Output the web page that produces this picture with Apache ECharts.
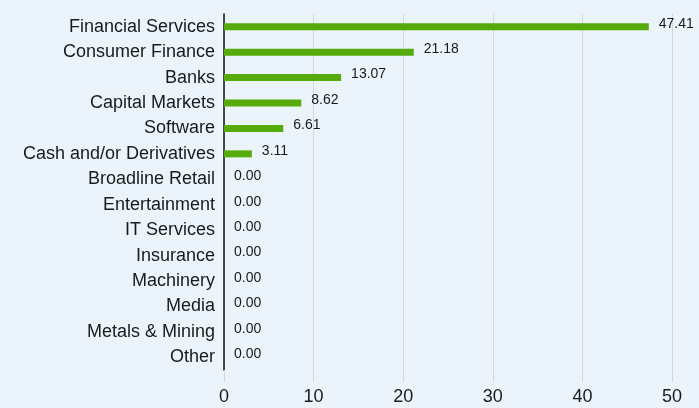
<!DOCTYPE html>
<html>
<head>
<meta charset="utf-8">
<script src="https://cdn.jsdelivr.net/npm/echarts@6/dist/echarts.min.js"></script>
<style>
  html, body { margin: 0; padding: 0; background: #eaf4fa; }
  #chart { width: 699px; height: 408px; }
</style>
</head>
<body>
<div id="chart"></div>
<script>
const categories = [
  'Financial Services', 'Consumer Finance', 'Banks', 'Capital Markets', 'Software',
  'Cash and/or Derivatives', 'Broadline Retail', 'Entertainment', 'IT Services',
  'Insurance', 'Machinery', 'Media', 'Metals & Mining', 'Other'
];
const weights = [47.41, 21.18, 13.07, 8.62, 6.61, 3.11, 0, 0, 0, 0, 0, 0, 0, 0];
const xTicks = [0, 10, 20, 30, 40, 50];

const chart = echarts.init(document.getElementById('chart'));

chart.setOption({
  backgroundColor: '#eaf4fa',
  textStyle: { fontFamily: 'Liberation Sans, Arial, sans-serif' },
  grid: { left: 224, right: 27, top: 14, bottom: 38 },
  xAxis: {
    type: 'value',
    min: xTicks[0],
    max: xTicks[xTicks.length - 1],
    interval: 10,
    axisLine: { show: false },
    axisTick: { show: true, length: 12, lineStyle: { color: '#d6d9dc' } },
    axisLabel: { color: '#1a1a1a', fontSize: 18, margin: 18 },
    splitLine: { show: true, lineStyle: { color: '#d6d9dc', width: 1 } }
  },
  yAxis: {
    type: 'category',
    data: categories,
    inverse: true,
    axisLine: { show: true, lineStyle: { color: '#111', width: 1.5 } },
    axisTick: { show: false },
    axisLabel: { color: '#1a1a1a', fontSize: 18, margin: 9, padding: [3, 0, 0, 0] }
  },
  series: [{
    type: 'bar',
    data: weights,
    barWidth: 7,
    itemStyle: { color: '#56ab0b' },
    label: {
      show: true,
      position: 'right',
      distance: 10,
      color: '#1a1a1a',
      fontSize: 14,
      offset: [0, -3],
      formatter: p => p.value.toFixed(2)
    }
  }]
});
</script>
</body>
</html>
